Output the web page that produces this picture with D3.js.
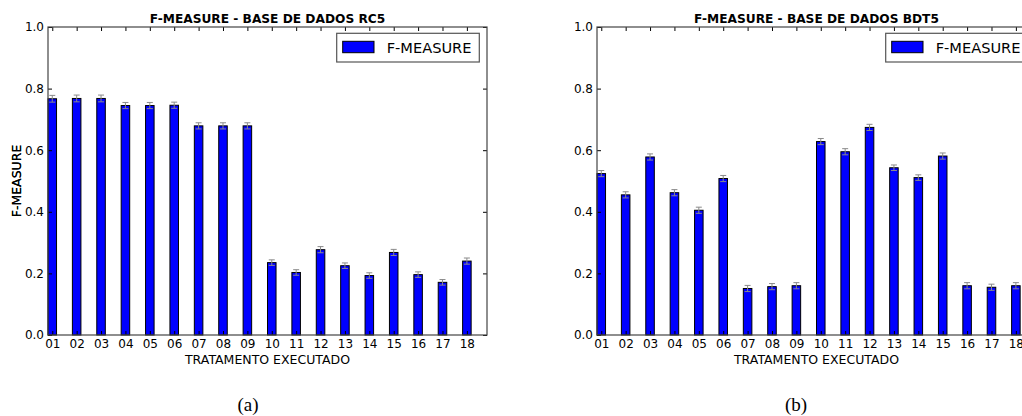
<!DOCTYPE html>
<html>
<head>
<meta charset="utf-8">
<script src="https://cdn.jsdelivr.net/npm/d3@7"></script>
<style>
  body { margin: 0; background: #fff; }
  svg { display: block; font-family: "DejaVu Sans", sans-serif; }
</style>
</head>
<body>
<script>
// ---------------- data ----------------
const treatments = ['01', '02', '03', '04', '05', '06', '07', '08', '09',
    '10', '11', '12', '13', '14', '15', '16', '17', '18']
const rc5Values = [0.767, 0.768, 0.768, 0.745, 0.745, 0.746, 0.679, 0.679, 0.679,
    0.235, 0.203, 0.277, 0.225, 0.193, 0.268, 0.196, 0.171, 0.240]
const rc5Errors = [0.011, 0.011, 0.011, 0.010, 0.010, 0.010, 0.010, 0.010, 0.010,
    0.009, 0.009, 0.010, 0.009, 0.009, 0.010, 0.009, 0.009, 0.010]
const bdt5Values = [0.524, 0.455, 0.578, 0.462, 0.405, 0.508, 0.151, 0.157, 0.160,
    0.628, 0.595, 0.674, 0.543, 0.511, 0.581, 0.160, 0.155, 0.160]
const bdt5Errors = [0.010, 0.010, 0.010, 0.010, 0.010, 0.010, 0.010, 0.010, 0.010,
    0.010, 0.010, 0.010, 0.009, 0.009, 0.010, 0.010, 0.010, 0.010]
const yTicks = [0.0, 0.2, 0.4, 0.6, 0.8, 1.0]

const W = 1022, H = 416
const barWidth = 0.35

const svg = d3.select('body').append('svg')
    .attr('width', W)
    .attr('height', H)

function drawPanel(opts) {
    const left = opts.left, top = 27, width = 439, height = 308
    const g = svg.append('g').attr('transform', 'translate(' + left + ',' + top + ')')

    const x = d3.scaleLinear().domain([0, treatments.length]).range([0, width])
    const y = d3.scaleLinear().domain([0, 1]).range([height, 0])

    // bars
    g.append('g').selectAll('rect')
        .data(opts.values)
        .enter().append('rect')
        .attr('x', (d, i) => x(i))
        .attr('y', d => y(d))
        .attr('width', x(barWidth) - x(0))
        .attr('height', d => y(0) - y(d))
        .attr('fill', '#0000ff')
        .attr('stroke', '#000')
        .attr('stroke-width', 1)

    // error bars
    const err = g.append('g').attr('stroke', '#8a8a8a').attr('stroke-width', 1)
    opts.values.forEach((v, i) => {
        const cx = x(i + barWidth / 2)
        const e = opts.errors[i]
        err.append('line').attr('x1', cx).attr('x2', cx).attr('y1', y(v - e)).attr('y2', y(v + e))
        err.append('line').attr('x1', cx - 3).attr('x2', cx + 3).attr('y1', y(v - e)).attr('y2', y(v - e))
        err.append('line').attr('x1', cx - 3).attr('x2', cx + 3).attr('y1', y(v + e)).attr('y2', y(v + e))
    })

    const tickPos = treatments.map((t, i) => i + barWidth / 2)

    // axes (ticks inward, classic style)
    const xBottom = g.append('g')
        .attr('transform', 'translate(0,' + height + ')')
        .call(d3.axisBottom(x).tickValues(tickPos)
            .tickFormat((d, i) => treatments[i]).tickSize(-4).tickPadding(4.5))
    const xTop = g.append('g')
        .call(d3.axisTop(x).tickValues(tickPos).tickFormat('').tickSize(-4))
    const yLeft = g.append('g')
        .call(d3.axisLeft(y).tickValues(yTicks).tickFormat(d3.format('.1f'))
            .tickSize(-4).tickPadding(4))
    const yRight = g.append('g')
        .attr('transform', 'translate(' + width + ',0)')
        .call(d3.axisRight(y).tickValues(yTicks).tickFormat('').tickSize(-4))

    ;[xBottom, xTop, yLeft, yRight].forEach(a => {
        a.select('.domain').remove()
        a.selectAll('line').attr('stroke', '#000')
        a.selectAll('text').attr('font-size', 12).attr('fill', '#000')
            .attr('font-family', '"DejaVu Sans", sans-serif')
    })

    // frame
    g.append('rect')
        .attr('x', 0).attr('y', 0)
        .attr('width', width).attr('height', height)
        .attr('fill', 'none')
        .attr('stroke', '#444')
        .attr('stroke-width', 1.2)

    // title
    g.append('text')
        .attr('x', width / 2).attr('y', -3.7)
        .attr('text-anchor', 'middle')
        .attr('font-size', 12.2)
        .attr('font-weight', 'bold')
        .text(opts.title)

    // axis labels
    g.append('text')
        .attr('x', width / 2).attr('y', height + 28.5)
        .attr('text-anchor', 'middle')
        .attr('font-size', 12.5)
        .text('TRATAMENTO EXECUTADO')
    g.append('text')
        .attr('transform', 'translate(' + (20.5 - left) + ',' + (height / 2) + ') rotate(-90)')
        .attr('text-anchor', 'middle')
        .attr('font-size', 12.5)
        .text('F-MEASURE')

    // legend
    const lg = g.append('g').attr('transform', 'translate(' + (width - 7.7 - 142.6) + ',6.3)')
    lg.append('rect')
        .attr('width', 142.6).attr('height', 28.7)
        .attr('fill', '#fff').attr('stroke', '#555').attr('stroke-width', 1.2)
    lg.append('rect')
        .attr('x', 6).attr('y', 8).attr('width', 31.3).attr('height', 11.4)
        .attr('fill', '#0000ff').attr('stroke', '#000')
    lg.append('text')
        .attr('x', 50).attr('y', 19.8)
        .attr('font-size', 14.6)
        .text('F-MEASURE')

    // caption
    svg.append('text')
        .attr('x', opts.captionX).attr('y', 411)
        .attr('text-anchor', 'middle')
        .attr('font-family', '"Liberation Serif", "Times New Roman", serif')
        .attr('font-size', 19)
        .text(opts.caption)
}

drawPanel({ left: 48, title: 'F-MEASURE - BASE DE DADOS RC5', values: rc5Values, errors: rc5Errors, caption: '(a)', captionX: 248 })
drawPanel({ left: 597, title: 'F-MEASURE - BASE DE DADOS BDT5', values: bdt5Values, errors: bdt5Errors, caption: '(b)', captionX: 796 })
</script>
</body>
</html>
